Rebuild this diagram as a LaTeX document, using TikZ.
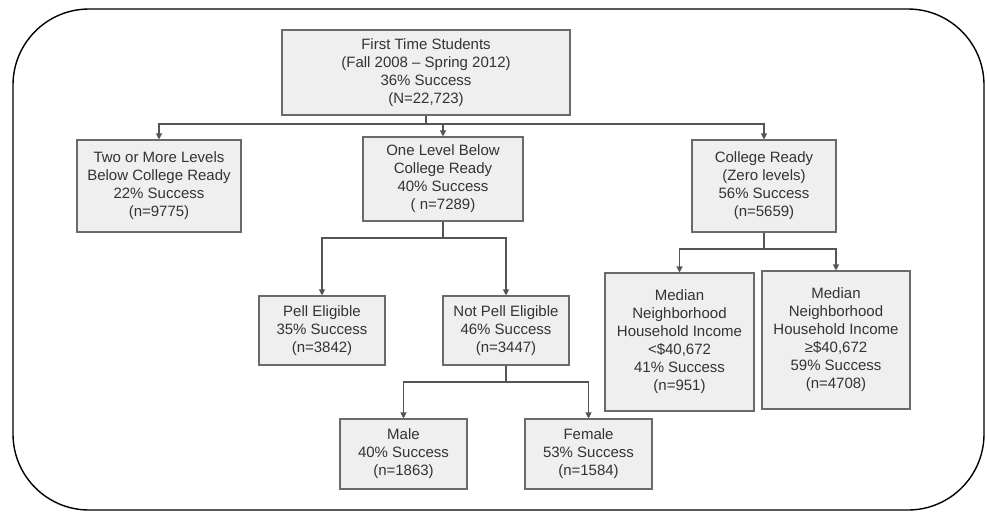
\documentclass[tikz,border=0pt]{standalone}
\usepackage{fontspec}
\setmainfont{Liberation Sans}
\usetikzlibrary{arrows.meta,shadows}
\definecolor{boxfill}{HTML}{EFEFEF}
\definecolor{boxdraw}{HTML}{6A6A6A}
\definecolor{conn}{HTML}{555555}
\definecolor{txt}{HTML}{333333}
\tikzset{
  treebox/.style={draw=boxdraw, line width=1.1pt, fill=boxfill, align=center,
    inner sep=0pt, text=txt, font=\fontsize{15}{18}\selectfont,
    drop shadow={shadow xshift=0.8pt, shadow yshift=-0.8pt, fill=black!35, opacity=0.6}},
  link/.style={draw=conn, line width=1.1pt},
  arrowlink/.style={link, -{Triangle[length=6pt,width=6pt]}},
}
\begin{document}
\begin{tikzpicture}[x=1pt,y=-1pt]
\useasboundingbox (0,0) rectangle (987,512);
\draw[line width=1.4pt, rounded corners=76pt] (13,9) rectangle (984,510);

\node[treebox, minimum width=288pt, minimum height=85pt] (root) at (426,72.5)
  {First Time Students\\(Fall 2008 – Spring 2012)\\36\% Success\\(N=22,723)};
\node[treebox, minimum width=164pt, minimum height=92pt] (two) at (159,186)
  {Two or More Levels\\Below College Ready\\22\% Success\\(n=9775)};
\node[treebox, minimum width=160pt, minimum height=84pt] (one) at (443,179)
  {One Level Below\\College Ready\\40\% Success\\( n=7289)};
\node[treebox, minimum width=144pt, minimum height=92pt] (ready) at (764,186)
  {College Ready\\(Zero levels)\\56\% Success\\(n=5659)};
\node[treebox, minimum width=126pt, minimum height=69pt] (pell) at (322,330.5)
  {Pell Eligible\\35\% Success\\(n=3842)};
\node[treebox, minimum width=126pt, minimum height=69pt] (notpell) at (506,330.5)
  {Not Pell Eligible\\46\% Success\\(n=3447)};
\node[treebox, minimum width=127pt, minimum height=70pt] (male) at (403.5,454)
  {Male\\40\% Success\\(n=1863)};
\node[treebox, minimum width=127pt, minimum height=70pt] (female) at (588.5,454)
  {Female\\53\% Success\\(n=1584)};
\node[treebox, minimum width=149pt, minimum height=138pt] (inclow) at (679.5,342)
  {Median\\Neighborhood\\Household Income\\<\$40,672\\41\% Success\\(n=951)};
\node[treebox, minimum width=148pt, minimum height=138pt] (inchigh) at (836,340)
  {Median\\Neighborhood\\Household Income\\≥\$40,672\\59\% Success\\(n=4708)};

\coordinate (j1) at (426,124);
\coordinate (j2) at (443,238);
\coordinate (j3) at (506,382);
\coordinate (j4) at (764,249);

\draw[link] (root.south) -- (j1);
\draw[arrowlink] (j1) -| (two.north);
\draw[arrowlink] (j1) -| (one.north);
\draw[arrowlink] (j1) -| (ready.north);

\draw[link] (one.south) -- (j2);
\draw[arrowlink] (j2) -| (pell.north);
\draw[arrowlink] (j2) -| (notpell.north);

\draw[link] (notpell.south) -- (j3);
\draw[arrowlink] (j3) -| (male.north);
\draw[arrowlink] (j3) -| (female.north);

\draw[link] (ready.south) -- (j4);
\draw[arrowlink] (j4) -| (inclow.north);
\draw[arrowlink] (j4) -| (inchigh.north);
\end{tikzpicture}
\end{document}
